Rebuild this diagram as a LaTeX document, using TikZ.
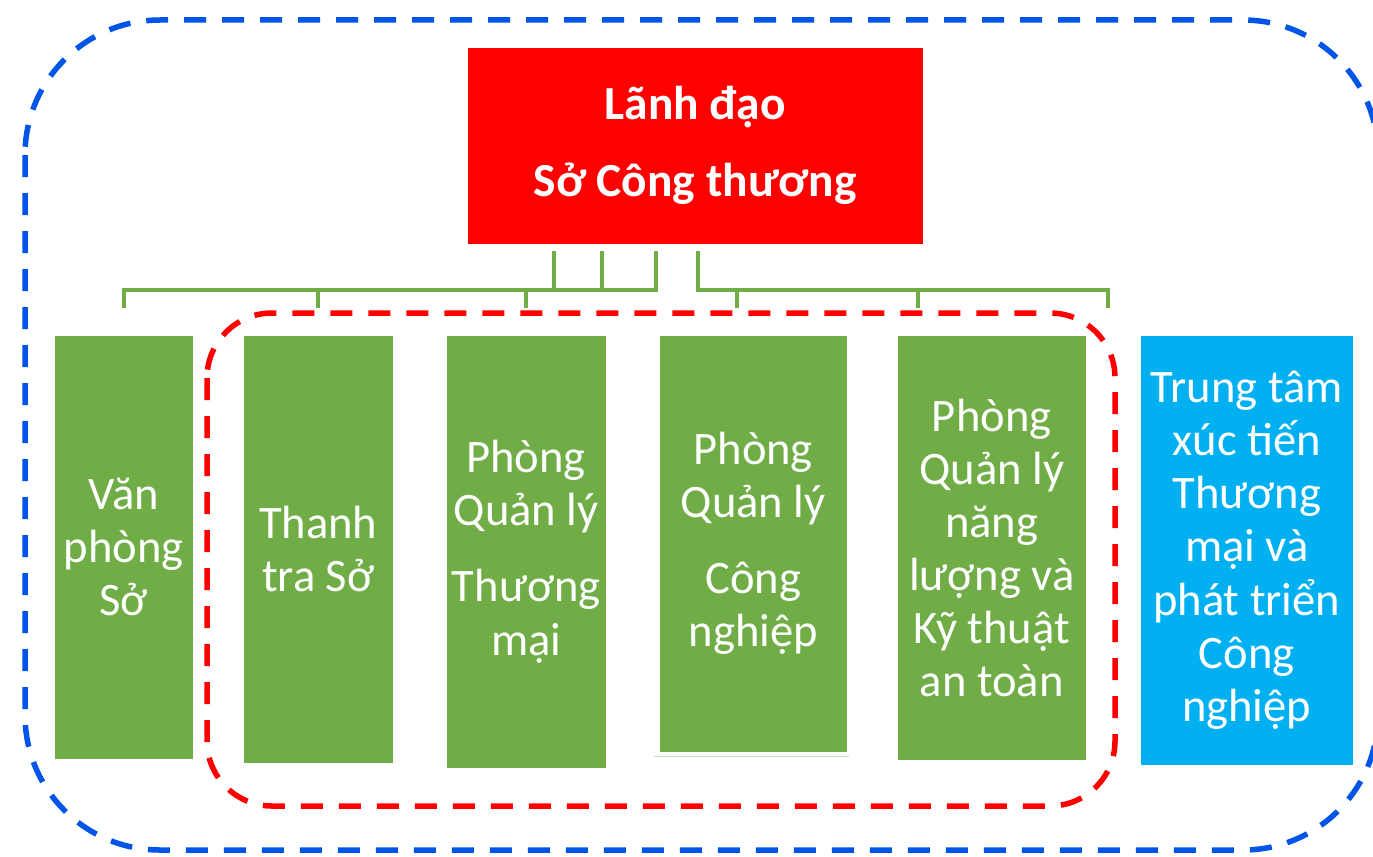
\documentclass[tikz,border=0pt]{standalone}
\usepackage{fontspec}
\setmainfont{Carlito}
\definecolor{boxgreen}{HTML}{70AD47}
\definecolor{boxblue}{HTML}{00B0F0}
\definecolor{frameblue}{RGB}{0,84,232}
\definecolor{palegreen}{HTML}{C5E0B4}
\begin{document}
\begin{tikzpicture}[thick,
  unit/.style={fill=boxgreen, text=white, align=center, anchor=north west, inner sep=0pt,
    font=\fontsize{26.5}{30.2}\selectfont},
  link/.style={boxgreen, line width=0.08cm},
  frame/.style={line width=0.11cm, dash pattern=on 0.44cm off 0.32cm}]
\useasboundingbox (0,0) rectangle (27.46,-17.12);
\draw [frameblue, frame, rounded corners=2.7cm] (0.5,-0.4) rectangle (27.56,-17.0);
\draw [red, frame, rounded corners=1.3cm] (4.14,-6.26) rectangle (22.30,-16.12);
\node (lead) [fill=red, text=white, align=center, anchor=north west, inner sep=0pt,
  minimum width=9.10cm, minimum height=3.92cm, font=\bfseries\fontsize{27}{30.2}\selectfont]
  at (9.34,-0.94) {Lãnh đạo\\[0.48cm]Sở Công thương};
\node (vp) [unit, minimum width=2.76cm, minimum height=8.46cm] at (1.08,-6.70) {Văn\\phòng\\Sở};
\node (tt) [unit, minimum width=2.98cm, minimum height=8.54cm] at (4.86,-6.70) {Thanh\\tra Sở};
\node (tm) [unit, minimum width=3.18cm, minimum height=8.64cm] at (8.92,-6.70)
  {Phòng\\Quản lý\\[0.46cm]Thương\\mại};
\node (cn) [unit, minimum width=3.74cm, minimum height=8.32cm] at (13.18,-6.70)
  {Phòng\\Quản lý\\[0.46cm]Công\\nghiệp};
\node (nl) [unit, minimum width=3.76cm, minimum height=8.48cm] at (17.94,-6.70)
  {Phòng\\Quản lý\\năng\\lượng và\\Kỹ thuật\\an toàn};
\node (xt) [unit, fill=boxblue, minimum width=4.24cm, minimum height=8.58cm] at (22.80,-6.70)
  {Trung tâm\\xúc tiến\\Thương\\mại và\\phát triển\\Công\\nghiệp};
\draw [palegreen, line width=0.02cm] (13.08,-15.12) -- (16.98,-15.12);
\coordinate (bus) at (0,-5.8);
\coordinate (drop) at (0,-6.16);
\draw [link] ([xshift=-0.79cm,yshift=-0.14cm]lead.south) |- (vp.north |- bus) -- (vp.north |- drop);
\draw [link] ([xshift=-2.83cm,yshift=-0.14cm]lead.south) -- ++(0,-0.8);
\draw [link] ([xshift=-1.87cm,yshift=-0.14cm]lead.south) -- ++(0,-0.8);
\foreach \n in {tt,tm} \draw [link] (\n.north |- bus) -- (\n.north |- drop);
\draw [link] ([xshift=0.05cm,yshift=-0.14cm]lead.south) |- (22.16,-5.8) -- (22.16,-6.16);
\foreach \x in {14.74,18.36} \draw [link] (\x,-5.8) -- (\x,-6.16);
\end{tikzpicture}
\end{document}
